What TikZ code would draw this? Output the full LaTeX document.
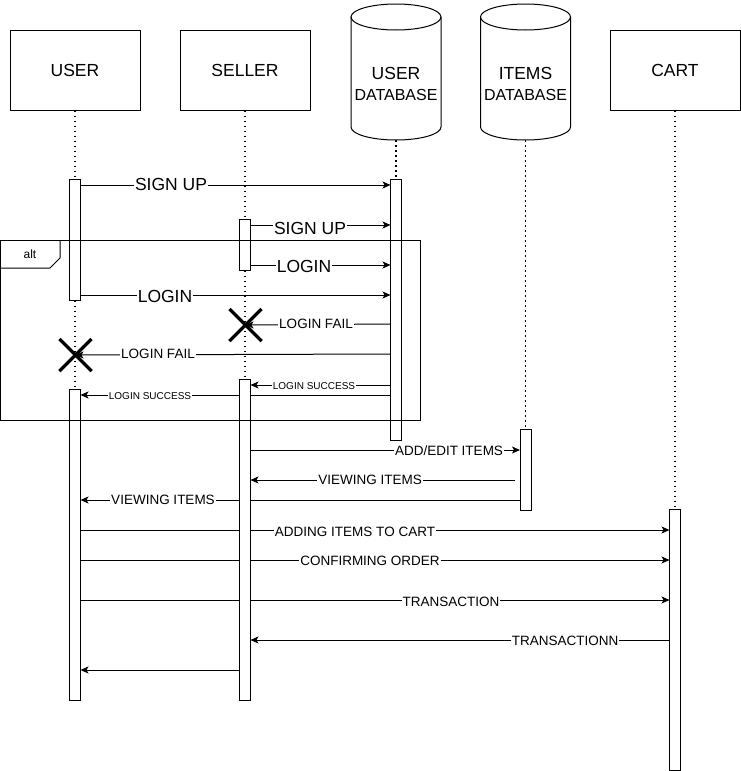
\documentclass[tikz,border=0pt]{standalone}
\usepackage{fontspec}
\setmainfont{Liberation Sans}
\usetikzlibrary{arrows.meta,shapes.misc}
\tikzset{
  hdr/.style={draw, fill=white, minimum width=130pt, minimum height=80pt, inner sep=0pt, font=\fontsize{17.5}{20}\selectfont},
  act/.style={draw, fill=white, minimum width=10pt, inner sep=0pt},
  life/.style={dash pattern=on 1.5pt off 3.5pt, line width=1.2pt},
  msg/.style={-{Stealth[length=8pt,width=7pt,inset=2pt]}},
  lblL/.style={fill=white, inner sep=1pt, font=\fontsize{17.5}{20}\selectfont},
  lblM/.style={fill=white, inner sep=1pt, font=\fontsize{13.5}{16}\selectfont},
  lblS/.style={fill=white, inner sep=1pt, font=\fontsize{10}{12}\selectfont},
  xmark/.style={cross out, draw, line width=3pt, minimum size=29pt, inner sep=0pt},
}
\begin{document}
\begin{tikzpicture}[x=1pt,y=-1pt,line width=1pt]
\useasboundingbox (0,0) rectangle (741,771);
% headers
\node[hdr] (user) at (75,70) {USER};
\node[hdr] (seller) at (245,70) {SELLER};
\node[hdr] (cart) at (675,70) {CART};
% cylinders
\foreach \cx/\nm in {396/udbc, 525.5/idbc}{
  \fill[white] (\cx-45,17) rectangle (\cx+45,127);
  \draw (\cx-45,17) -- (\cx-45,127) .. controls (\cx-45,134.18) and (\cx-24.85,140) .. (\cx,140)
        .. controls (\cx+24.85,140) and (\cx+45,134.18) .. (\cx+45,127) -- (\cx+45,17);
  \draw (\cx,17) ellipse [x radius=45pt, y radius=13pt];
}
\coordinate (udb) at (396,140);
\coordinate (idb) at (525.5,140);
\node[font=\fontsize{17.5}{20}\selectfont] (udbt1) at (396,73) {USER};
\node[font=\fontsize{16}{18}\selectfont] (udbt2) at (396,94.5) {DATABASE};
\node[font=\fontsize{17.5}{20}\selectfont] (idbt1) at (525.5,73) {ITEMS};
\node[font=\fontsize{16}{18}\selectfont] (idbt2) at (525.5,94.5) {DATABASE};
% activation placeholders (coordinates for lifelines)
\path
  (75,240) node[act, draw=none, fill=none, minimum height=120pt] (ua1) {}
  (75,545) node[act, draw=none, fill=none, minimum height=310pt] (ua2) {}
  (245,245) node[act, draw=none, fill=none, minimum height=50pt] (sa1) {}
  (245,540) node[act, draw=none, fill=none, minimum height=320pt] (sa2) {}
  (396,310) node[act, draw=none, fill=none, minimum height=260pt] (dba) {}
  (525.5,470) node[act, draw=none, fill=none, minimum height=80pt] (ida) {}
  (675,640) node[act, draw=none, fill=none, minimum height=260pt] (ca) {};
% lifelines
\draw[life] (user.south) -- (ua1.north);
\draw[life] (ua1.south) -- (ua2.north);
\draw[life] (seller.south) -- (sa1.north);
\draw[life] (sa1.south) -- (sa2.north);
\draw[life] (udb) -- (dba.north);
\draw[life] (idb) -- (ida.north);
\draw[life] (cart.south) -- (ca.north);
% messages
\draw[msg] (ua1.east |- 0,185) -- (dba.west |- 0,185);
\draw[msg] (sa1.east |- 0,225) -- (dba.west |- 0,225);
\draw[msg] (sa1.east |- 0,265) -- (dba.west |- 0,265);
\draw[msg] (ua1.east |- 0,295) -- (dba.west |- 0,295);
\node[xmark] (x1) at (245.5,325) {};
\node[xmark] (x2) at (75.5,355) {};
\draw[msg] (dba.west |- 0,324) -- (x1.center);
\draw[msg] (dba.west |- 0,354) -- (x2.center);
\draw[msg] (dba.west |- 0,385) -- (sa2.east |- 0,385);
\draw[msg] (dba.west |- 0,395) -- (ua2.east |- 0,395);
\draw[msg] (sa2.east |- 0,450) -- (ida.west |- 0,450);
\draw[msg] ([xshift=-5pt]ida.west |- 0,480) -- (sa2.east |- 0,480);
\draw[msg] (ida.west |- 0,500) -- (ua2.east |- 0,500);
\draw[msg] (ua2.east |- 0,530) -- (ca.west |- 0,530);
\draw[msg] (ua2.east |- 0,560) -- (ca.west |- 0,560);
\draw[msg] (ua2.east |- 0,600) -- (ca.west |- 0,600);
\draw[msg] (ca.west |- 0,640) -- (sa2.east |- 0,640);
\draw[msg] (sa2.west |- 0,670) -- (ua2.east |- 0,670);
% activations
\foreach \a in {ua1,ua2,sa1,sa2,dba,ida,ca}{
  \draw[fill=white] (\a.north west) rectangle (\a.south east);
}
% X marks on top
\node[xmark] at (x1) {};
\node[xmark] at (x2) {};
% labels
\node[lblL] (l1) at (171,184) {SIGN UP};
\node[lblL] (l2) at (310,228) {SIGN UP};
\node[lblL] (l3) at (304,266) {LOGIN};
\node[lblL] (l4) at (165,296) {LOGIN};
\node[lblM] (l5) at (316,324) {LOGIN FAIL};
\node[lblM] (l6) at (158,354) {LOGIN FAIL};
\node[lblS] (l7) at (314,386) {LOGIN SUCCESS};
\node[lblS] (l8) at (150,396) {LOGIN SUCCESS};
\node[lblM] (l9) at (449,451) {ADD/EDIT ITEMS};
\node[lblM] (l10) at (370,480) {VIEWING ITEMS};
\node[lblM] (l11) at (163,500) {VIEWING ITEMS};
\node[lblM] (l12) at (355,532) {ADDING ITEMS TO CART};
\node[lblM] (l13) at (370,561) {CONFIRMING ORDER};
\node[lblM] (l14) at (451,602) {TRANSACTION};
\node[lblM] (l15) at (565,641) {TRANSACTIONN};
% alt frame
\draw (0,240) rectangle (420,420);
\draw (0,268) -- (50,268) -- (60,258) -- (60,240);
\node[font=\fontsize{12}{14}\selectfont] (alt) at (30,254) {alt};
\end{tikzpicture}
\end{document}
